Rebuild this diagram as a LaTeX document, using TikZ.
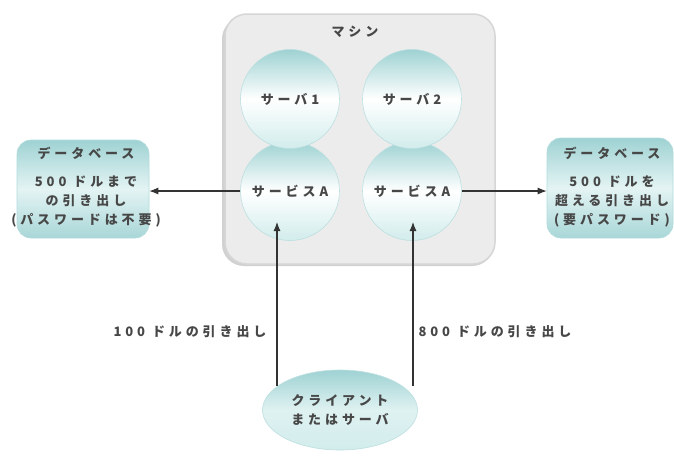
\documentclass[tikz,border=0pt]{standalone}
\usepackage{fontspec}
\setmainfont{Noto Sans CJK JP}[LetterSpace=30]
\usetikzlibrary{arrows.meta,shapes.geometric}
\definecolor{teal1}{HTML}{9FD2D3}
\definecolor{teal2}{HTML}{D2ECEC}
\definecolor{machfill}{HTML}{ECECEC}
\definecolor{machedge}{HTML}{D6D6D6}
\definecolor{linec}{HTML}{333333}
\tikzset{
  lbl/.style={font=\fontsize{13}{19}\selectfont\bfseries, text=black!72, inner sep=0pt, align=center},
  machbox/.style={rounded corners=22pt, fill=machfill, draw=machedge, line width=1.5pt, minimum width=270pt, minimum height=250pt, inner sep=0pt},
  srv/.style={circle, minimum size=99pt, inner sep=0pt, draw=teal1!70, line width=0.6pt,
     top color=teal1, bottom color=teal2, middle color=white, lbl},
  dbbox/.style={rounded corners=14pt, draw=teal1!80, line width=0.6pt, inner sep=0pt,
     top color=teal1, bottom color=teal1!90, middle color=teal2!60},
  cli/.style={ellipse, minimum width=155pt, minimum height=80pt, inner sep=0pt, draw=teal1!70, line width=0.6pt,
     top color=teal1, bottom color=teal2, middle color=teal2!70!white, lbl},
  arr/.style={draw=linec, line width=1.1pt, -{Latex[length=9pt,width=7pt]}},
}
\begin{document}
\begin{tikzpicture}[x=1pt,y=-1pt]
\useasboundingbox[fill=white] (0,0) rectangle (674,458);
% machine
\fill[black!18, rounded corners=22pt] (222,17) rectangle (494,266);
\node[machbox] (mach) at (360,139) {};
\node[lbl] (machlbl) at (355,32) {マシン};
% service circles (lower) then server circles (upper)
\node[srv] (a1) at (290,191) {サービスA};
\node[srv] (a2) at (412,191) {サービスA};
\node[srv] (s1) at (290,99) {サーバ1};
\node[srv] (s2) at (412,99) {サーバ2};
% database boxes
\node[dbbox, minimum width=132pt, minimum height=98pt] (dbl) at (83,189) {};
\node[lbl] (dbltxt) at (86,187) {データベース\\[9pt]500 ドルまで\\の引き出し\\(パスワードは不要)};
\node[dbbox, minimum width=126pt, minimum height=100pt] (dbr) at (610,188) {};
\node[lbl] (dbrtxt) at (612,187) {データベース\\[9pt]500 ドルを\\超える引き出し\\(要パスワード)};
% client
\node[cli] (client) at (340,410) {クライアント\\またはサーバ};
% labels
\node[lbl] (w1) at (190,332) {100 ドルの引き出し};
\node[lbl] (w2) at (495,332) {800 ドルの引き出し};
% connectors
\coordinate (c1) at (277,386);
\coordinate (t1) at (277,222);
\coordinate (c2) at (413,386);
\coordinate (t2) at (413,222);
\draw[arr] (a1.west) -- (a1.west -| dbl.east);
\draw[arr] (a2.east) -- (a2.east -| dbr.west);
\draw[arr] (c1) -- (t1);
\draw[arr] (c2) -- (t2);
\end{tikzpicture}
\end{document}
